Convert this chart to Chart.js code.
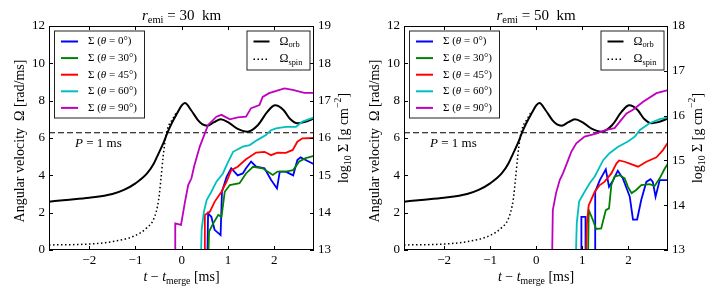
<!DOCTYPE html>
<html>
<head>
<meta charset="utf-8">
<script src="https://cdn.jsdelivr.net/npm/chart.js@4.4.1/dist/chart.umd.min.js"></script>
<style>
  html, body { margin: 0; padding: 0; background: #fff; }
  #wrap { position: relative; width: 720px; height: 300px; }
  #wrap canvas { position: absolute; top: 0; }
</style>
</head>
<body>
<div id="wrap">
  <canvas id="c30" width="360" height="300" style="left:0"></canvas>
  <canvas id="c50" width="360" height="300" style="left:360px"></canvas>
</div>
<script>
(() => {
  // axis ranges and ticks
  const X_MIN = -2.87;
  const X_MAX = 2.86;
  const X_TICKS = [-2, -1, 0, 1, 2];
  const OMEGA_TICKS = [0, 2, 4, 6, 8, 10, 12];
  const SIGMA_TICKS_30 = [13, 14, 15, 16, 17, 18, 19];
  const SIGMA_TICKS_50 = [13, 14, 15, 16, 17, 18];
  const P_1MS = 2 * Math.PI;

  // orbital / spin angular velocity (rad/ms), same in both panels
  const T_ORB = [-2.87, -2.5, -2, -1.5, -1.25, -1, -0.75, -0.6, -0.5, -0.4, -0.3, -0.2, -0.1, 0, 0.07, 0.2, 0.35, 0.45, 0.55, 0.7, 0.84, 1.0, 1.2, 1.42, 1.65, 1.85, 2.02, 2.2, 2.35, 2.5, 2.65, 2.86];
  const OMEGA_ORB = [2.59, 2.68, 2.8, 3.0, 3.22, 3.57, 4.1, 4.65, 5.18, 5.71, 6.34, 6.87, 7.32, 7.75, 7.87, 7.5, 6.96, 6.73, 6.66, 6.85, 7.0, 6.85, 6.5, 6.34, 6.7, 7.4, 7.75, 7.5, 7.0, 6.79, 6.85, 7.05];
  const T_SPIN = [-2.87, -2, -1.5, -1, -0.75, -0.6, -0.5, -0.45, -0.4, -0.35, -0.3, -0.2, -0.12];
  const OMEGA_SPIN = [0.27, 0.32, 0.45, 0.78, 1.2, 1.7, 2.68, 3.8, 5.05, 6.0, 6.55, 7.0, 7.35];

  // log10 Sigma at r_emi = 30 km, [t, value]
  const S30_TH0 = [[0.55, 12.5], [0.57, 13.98], [0.64, 13.89], [0.71, 13.54], [0.84, 13.4], [0.87, 14.56], [0.97, 14.96], [1.07, 15.19], [1.21, 15.0], [1.32, 15.05], [1.39, 15.19], [1.5, 15.37], [1.61, 15.23], [1.79, 15.19], [1.93, 14.88], [2.06, 14.65], [2.12, 15.1], [2.25, 15.1], [2.41, 15.0], [2.5, 15.41], [2.57, 15.48], [2.68, 15.41], [2.86, 15.3]];
  const S30_TH30 = [[0.57, 12.5], [0.59, 13.49], [0.68, 13.71], [0.79, 13.94], [0.86, 13.89], [0.93, 14.56], [1.04, 14.74], [1.25, 14.79], [1.39, 15.05], [1.54, 15.23], [1.75, 15.19], [1.97, 15.01], [2.07, 15.1], [2.25, 15.1], [2.41, 15.14], [2.54, 15.37], [2.68, 15.46], [2.86, 15.52]];
  const S30_TH45 = [[0.49, 12.5], [0.5, 13.94], [0.61, 14.03], [0.71, 14.29], [0.86, 14.56], [0.97, 14.83], [1.07, 15.14], [1.21, 15.23], [1.39, 15.43], [1.61, 15.61], [1.79, 15.63], [1.93, 15.54], [2.07, 15.61], [2.25, 15.6], [2.4, 15.68], [2.5, 15.9], [2.61, 15.99], [2.86, 16.0]];
  const S30_TH60 = [[0.41, 12.5], [0.43, 13.54], [0.48, 14.03], [0.54, 14.34], [0.64, 14.56], [0.75, 14.83], [0.89, 15.05], [0.98, 15.3], [1.11, 15.63], [1.32, 15.77], [1.47, 15.81], [1.64, 15.95], [1.82, 16.08], [1.93, 16.21], [2.04, 16.26], [2.25, 16.3], [2.47, 16.3], [2.61, 16.44], [2.86, 16.55]];
  const S30_TH90 = [[-0.145, 12.5], [-0.14, 13.71], [-0.015, 13.67], [0.07, 14.29], [0.14, 14.74], [0.21, 14.92], [0.27, 15.25], [0.39, 15.77], [0.57, 16.35], [0.75, 16.57], [0.86, 16.62], [1.04, 16.5], [1.21, 16.55], [1.39, 16.57], [1.5, 16.8], [1.68, 16.88], [1.75, 17.1], [1.89, 17.2], [2.22, 17.33], [2.4, 17.29], [2.65, 17.21], [2.86, 17.21]];

  // log10 Sigma at r_emi = 50 km
  const S50_TH0 = [[0.98, 12.5], [0.98, 13.74], [1.07, 13.74], [1.07, 12.5], [1.08, null], [1.28, 12.5], [1.28, 14.3], [1.38, 14.56], [1.51, 14.8], [1.58, 14.41], [1.67, 14.56], [1.77, 14.77], [1.88, 14.6], [1.99, 14.3], [2.03, 14.19], [2.1, 13.68], [2.19, 13.68], [2.28, 14.12], [2.39, 14.52], [2.48, 14.58], [2.53, 14.52], [2.59, 14.19], [2.68, 14.56], [2.86, 14.56]];
  const S50_TH30 = [[1.12, 12.5], [1.14, 13.89], [1.23, 13.67], [1.3, 13.47], [1.41, 13.48], [1.51, 13.89], [1.58, 13.93], [1.63, 14.45], [1.7, 14.64], [1.81, 14.67], [1.92, 14.6], [1.99, 14.41], [2.07, 14.27], [2.17, 14.34], [2.28, 14.45], [2.46, 14.47], [2.57, 14.43], [2.68, 14.6], [2.79, 14.82], [2.86, 14.93]];
  const S50_TH45 = [[1.07, 12.5], [1.1, 13.6], [1.14, 14.0], [1.27, 14.3], [1.38, 14.45], [1.48, 14.52], [1.63, 14.71], [1.74, 14.93], [1.8, 15.0], [1.92, 14.97], [2.03, 14.93], [2.21, 14.86], [2.39, 14.97], [2.61, 15.07], [2.75, 15.23], [2.86, 15.4]];
  const S50_TH60 = [[0.85, 12.5], [0.88, 13.6], [0.93, 14.08], [1.05, 14.3], [1.16, 14.49], [1.27, 14.64], [1.38, 14.86], [1.45, 15.0], [1.59, 15.16], [1.77, 15.3], [1.99, 15.42], [2.14, 15.53], [2.25, 15.68], [2.46, 15.83], [2.68, 15.92], [2.86, 15.96]];
  const S50_TH90 = [[0.34, 12.5], [0.36, 13.89], [0.43, 14.27], [0.51, 14.56], [0.58, 14.71], [0.69, 15.0], [0.76, 15.19], [0.87, 15.38], [1.05, 15.53], [1.3, 15.6], [1.52, 15.68], [1.7, 15.72], [1.81, 15.86], [1.96, 16.05], [2.1, 16.13], [2.32, 16.31], [2.61, 16.5], [2.86, 16.57]];

  const THETAS = ["0", "30", "45", "60", "90"];
  const THETA_COLORS = ["#0000ff", "#008000", "#ff0000", "#00bfbf", "#bf00bf"];

  const SERIF = '"Liberation Serif", "DejaVu Serif", serif';

  const pairs = (arr) => arr.map(([x, y]) => ({ x, y }));
  const zip = (ts, vs) => ts.map((t, i) => ({ x: t, y: vs[i] }));
  const fmt = (v) => (v < 0 ? "\u2212" + Math.abs(v) : String(v));

  // draw text made of parts: [text, kind] with kind "", "i", "sub", "sup"
  function richText(ctx, parts, x, y, size, align, rot) {
    const fontOf = (kind) => {
      const s = kind === "sub" || kind === "sup" ? size * 0.7 : size;
      return `${kind === "i" ? "italic " : ""}${s}px ${SERIF}`;
    };
    let total = 0;
    parts.forEach(([t, k]) => { ctx.font = fontOf(k); total += ctx.measureText(t).width; });
    ctx.save();
    ctx.translate(x, y);
    if (rot) ctx.rotate(rot);
    ctx.fillStyle = "#000";
    ctx.textBaseline = "middle";
    ctx.textAlign = "left";
    let cx = align === "center" ? -total / 2 : 0;
    parts.forEach(([t, k]) => {
      ctx.font = fontOf(k);
      const dy = k === "sub" ? size * 0.3 : k === "sup" ? -size * 0.38 : 0;
      ctx.fillText(t, cx, dy);
      cx += ctx.measureText(t).width;
    });
    ctx.restore();
  }

  const decor = {
    id: "decor",
    afterDraw(chart, args, o) {
      const { ctx, chartArea: a, scales } = chart;
      const xs = scales.x, ys = scales.y, y1 = scales.y1;
      ctx.save();
      ctx.strokeStyle = "#000";
      ctx.lineWidth = 1;
      ctx.strokeRect(a.left + 0.5, a.top + 0.5, a.right - a.left - 1, a.bottom - a.top - 1);
      ctx.beginPath();
      X_TICKS.forEach((v) => {
        const p = Math.round(xs.getPixelForValue(v)) + 0.5;
        ctx.moveTo(p, a.bottom); ctx.lineTo(p, a.bottom - 4);
        ctx.moveTo(p, a.top); ctx.lineTo(p, a.top + 4);
      });
      OMEGA_TICKS.forEach((v) => {
        const p = Math.round(ys.getPixelForValue(v)) + 0.5;
        ctx.moveTo(a.left, p); ctx.lineTo(a.left + 4, p);
      });
      o.sigmaTicks.forEach((v) => {
        const p = Math.round(y1.getPixelForValue(v)) + 0.5;
        ctx.moveTo(a.right, p); ctx.lineTo(a.right - 4, p);
      });
      ctx.stroke();

      const midX = (a.left + a.right) / 2;
      const midY = (a.top + a.bottom) / 2;
      richText(ctx, [["r", "i"], ["emi", "sub"], [" = " + o.radius + "  km", ""]], midX, 16, 15, "center");
      richText(ctx, [["t", "i"], [" \u2212 ", ""], ["t", "i"], ["merge", "sub"], [" [ms]", ""]], midX, 277, 14, "center");
      richText(ctx, [["Angular velocity  \u03a9 [rad/ms]", ""]], a.left - 29, midY + 3, 14, "center", -Math.PI / 2);
      richText(ctx, [["log", ""], ["10", "sub"], [" \u03a3 [g cm", ""], ["\u22122", "sup"], ["]", ""]], a.right + 30, midY, 14, "center", -Math.PI / 2);
      richText(ctx, [["P", "i"], [" = 1 ms", ""]], a.left + 26, ys.getPixelForValue(P_1MS) + 11, 13, "left");

      // Sigma legend, upper left
      const bx = a.left + 5, by = a.top + 4.5;
      ctx.fillStyle = "#fff";
      ctx.fillRect(bx, by, 90, 87);
      ctx.strokeStyle = "#222";
      ctx.lineWidth = 1;
      ctx.strokeRect(bx + 0.5, by + 0.5, 90, 87);
      THETAS.forEach((th, i) => {
        const ey = a.top + 15.5 + i * 16.6;
        ctx.strokeStyle = THETA_COLORS[i];
        ctx.lineWidth = 2;
        ctx.beginPath(); ctx.moveTo(bx + 7, ey); ctx.lineTo(bx + 24, ey); ctx.stroke();
        richText(ctx, [["\u03a3 (", ""], ["\u03b8", "i"], [" = " + th + "\u00b0)", ""]], bx + 34, ey, 11, "left");
      });

      // Omega legend, upper right
      const ox = a.right - 4.5 - 63, oy = a.top + 4.5;
      ctx.fillStyle = "#fff";
      ctx.fillRect(ox, oy, 63, 39);
      ctx.strokeStyle = "#222";
      ctx.lineWidth = 1;
      ctx.strokeRect(ox + 0.5, oy + 0.5, 63, 39);
      ctx.strokeStyle = "#000";
      ctx.lineWidth = 2;
      ctx.beginPath(); ctx.moveTo(ox + 7, a.top + 15.5); ctx.lineTo(ox + 23, a.top + 15.5); ctx.stroke();
      ctx.lineWidth = 1.5;
      ctx.setLineDash([1.5, 2.5]);
      ctx.beginPath(); ctx.moveTo(ox + 7, a.top + 33.3); ctx.lineTo(ox + 23, a.top + 33.3); ctx.stroke();
      ctx.setLineDash([]);
      richText(ctx, [["\u03a9", ""], ["orb", "sub"]], ox + 33, a.top + 15.5, 12, "left");
      richText(ctx, [["\u03a9", ""], ["spin", "sub"]], ox + 33, a.top + 33.3, 12, "left");
      ctx.restore();
    },
  };

  function makePanel(id, radius, sigmas, sigmaTicks, yWidth, y1Width) {
    const sigmaSets = sigmas.map((s, i) => ({
      data: pairs(s),
      yAxisID: "y1",
      borderColor: THETA_COLORS[i],
      borderWidth: 1.8,
      tension: 0,
    })).reverse();

    const tickFont = { family: SERIF, size: 13 };
    const noGrid = { display: false, drawTicks: false };
    return new Chart(document.getElementById(id), {
      type: "line",
      data: {
        datasets: [
          ...sigmaSets,
          { data: zip(T_ORB, OMEGA_ORB), yAxisID: "y", borderColor: "#000", borderWidth: 2, cubicInterpolationMode: "monotone" },
          { data: zip(T_SPIN, OMEGA_SPIN), yAxisID: "y", borderColor: "#000", borderWidth: 1.5, borderDash: [1.5, 2.5], cubicInterpolationMode: "monotone" },
          { data: [{ x: X_MIN, y: P_1MS }, { x: X_MAX, y: P_1MS }], yAxisID: "y", borderColor: "#000", borderWidth: 1.1, borderDash: [6, 3] },
        ],
      },
      options: {
        responsive: false,
        animation: false,
        devicePixelRatio: 1,
        layout: { padding: { top: 26, left: 0, right: 0, bottom: 0 } },
        elements: { point: { radius: 0 } },
        plugins: {
          legend: { display: false },
          tooltip: { enabled: false },
          decor: { radius, sigmaTicks },
        },
        scales: {
          x: {
            type: "linear", min: X_MIN, max: X_MAX,
            grid: noGrid, border: { display: false },
            ticks: { font: tickFont, color: "#000", padding: 3, maxRotation: 0, callback: fmt },
            afterBuildTicks: (s) => { s.ticks = X_TICKS.map((v) => ({ value: v })); },
            afterFit: (s) => { s.height = 50; },
          },
          y: {
            type: "linear", position: "left", min: 0, max: 12,
            grid: noGrid, border: { display: false },
            ticks: { font: tickFont, color: "#000", padding: 4, callback: fmt },
            afterBuildTicks: (s) => { s.ticks = OMEGA_TICKS.map((v) => ({ value: v })); },
            afterFit: (s) => { s.width = yWidth; },
          },
          y1: {
            type: "linear", position: "right", min: 13, max: sigmaTicks[sigmaTicks.length - 1],
            grid: noGrid, border: { display: false },
            ticks: { font: tickFont, color: "#000", padding: 4, callback: fmt },
            afterBuildTicks: (s) => { s.ticks = sigmaTicks.map((v) => ({ value: v })); },
            afterFit: (s) => { s.width = y1Width; },
          },
        },
      },
      plugins: [decor],
    });
  }

  makePanel("c30", 30, [S30_TH0, S30_TH30, S30_TH45, S30_TH60, S30_TH90], SIGMA_TICKS_30, 49, 46);
  makePanel("c50", 50, [S50_TH0, S50_TH30, S50_TH45, S50_TH60, S50_TH90], SIGMA_TICKS_50, 44, 52);
})();
</script>
</body>
</html>
